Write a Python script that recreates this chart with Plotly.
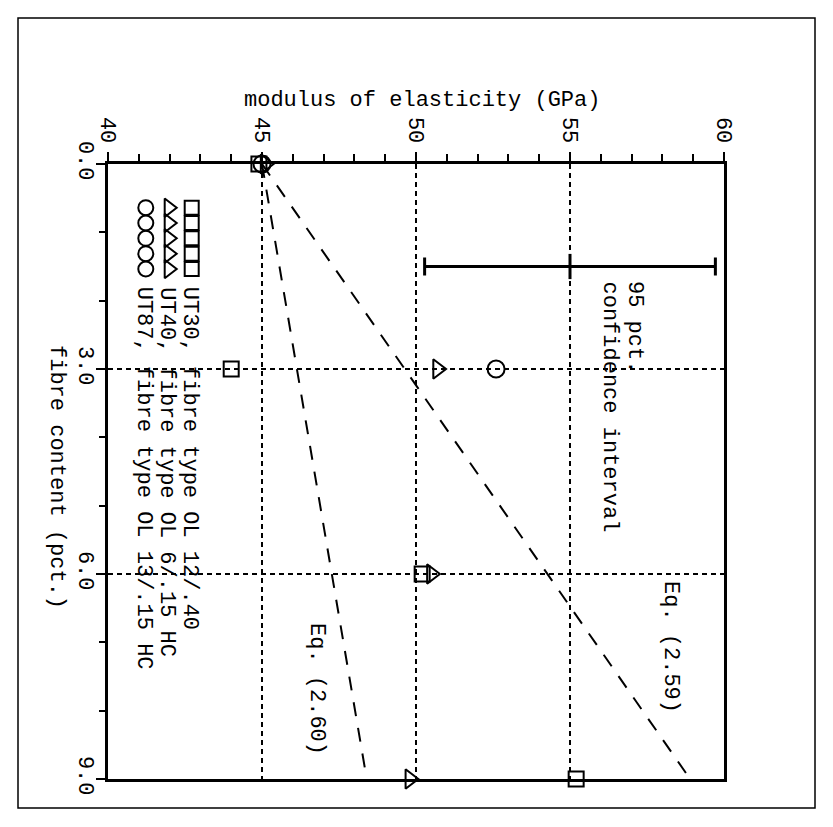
import plotly.graph_objects as go

# ---- measured data: fibre content (pct.) vs. modulus of elasticity (GPa) ----
ut30_fibre = [0.0, 3.0, 6.0, 9.0]
ut30_modulus = [44.9, 44.0, 50.2, 55.2]

ut40_fibre = [0.0, 3.0, 6.0, 9.0]
ut40_modulus = [45.1, 50.7, 50.5, 49.8]

ut87_fibre = [0.0, 3.0]
ut87_modulus = [45.0, 52.6]

# ---- model predictions ----
eq259_fibre = [0.0, 9.0]
eq259_modulus = [45.0, 58.9]
eq260_fibre = [0.0, 9.0]
eq260_modulus = [45.0, 48.4]

# ---- 95 pct. confidence interval ----
ci_fibre = [1.5]
ci_centre = [55.0]
ci_half_width = [4.72]

legend_labels = [
    "UT30, fibre type OL 12/.40",
    "UT40, fibre type OL 6/.15 HC",
    "UT87, fibre type OL 13/.15 HC",
]

modulus_range = [40, 60]
fibre_range = [0.0, 9.0]
modulus_ticks = [40, 45, 50, 55, 60]
fibre_ticks = [0.0, 3.0, 6.0, 9.0]

# ---- page geometry ----
W, H = 833, 827
L, T = 108, 164
PW, PH = 616, 615
FONT = dict(family="Liberation Mono", size=22, color="black")


def mod_at(px):
    return modulus_range[0] + (px - L) * (modulus_range[1] - modulus_range[0]) / PW


def fib_at(py):
    return fibre_range[0] + (py - T) * (fibre_range[1] - fibre_range[0]) / PH


def paper_x(px):
    return (px - L) / PW


def paper_y(py):
    return (T + PH - py) / PH


fig = go.Figure()

# prediction lines
for xs, ys in [(eq259_modulus, eq259_fibre), (eq260_modulus, eq260_fibre)]:
    fig.add_trace(go.Scatter(
        x=xs, y=ys, mode="lines", cliponaxis=False,
        line=dict(color="black", width=2, dash="14px,12px"),
        showlegend=False, hoverinfo="skip"))

# confidence interval bar
fig.add_trace(go.Scatter(
    x=ci_centre, y=ci_fibre, mode="markers", cliponaxis=False,
    marker=dict(symbol="line-ns-open", size=18, color="black",
                line=dict(color="black", width=3)),
    error_x=dict(type="data", array=ci_half_width, symmetric=True,
                 color="black", thickness=3, width=9),
    showlegend=False))

# measured series
series = [
    (ut30_modulus, ut30_fibre, "square-open", 15),
    (ut40_modulus, ut40_fibre, "triangle-right-open", 17),
    (ut87_modulus, ut87_fibre, "circle-open", 17),
]
for xs, ys, sym, size in series:
    fig.add_trace(go.Scatter(
        x=xs, y=ys, mode="markers", cliponaxis=False,
        marker=dict(symbol=sym, size=size, color="black",
                    line=dict(color="black", width=2)),
        showlegend=False))

# key: a row of five symbols followed by the series description
key_rows_px = [191.7, 168.7, 145.8]
key_sym_py = [207.7, 223.0, 238.3, 253.7, 269.0]
key_sizes = [14, 16, 15]
for (xs, ys, sym, size), row_px, label, ks in zip(series, key_rows_px, legend_labels, key_sizes):
    fig.add_trace(go.Scatter(
        x=[mod_at(row_px)] * len(key_sym_py),
        y=[fib_at(p) for p in key_sym_py],
        mode="markers", cliponaxis=False,
        marker=dict(symbol=sym, size=ks, color="black",
                    line=dict(color="black", width=2)),
        showlegend=False, hoverinfo="skip"))
    fig.add_annotation(
        x=paper_x(row_px - 2), y=paper_y(285), xref="paper", yref="paper",
        text=label, textangle=90, showarrow=False,
        xanchor="center", yanchor="top", font=FONT)

# text inside the plot
fig.add_annotation(x=paper_x(635), y=paper_y(279), xref="paper", yref="paper",
                   text="95 pct.", textangle=90, showarrow=False,
                   xanchor="center", yanchor="top", font=FONT)
fig.add_annotation(x=paper_x(609), y=paper_y(279), xref="paper", yref="paper",
                   text="confidence interval", textangle=90, showarrow=False,
                   xanchor="center", yanchor="top", font=FONT)
fig.add_annotation(x=paper_x(671), y=paper_y(647), xref="paper", yref="paper",
                   text="Eq. (2.59)", textangle=90, showarrow=False,
                   xanchor="center", yanchor="middle", font=FONT)
fig.add_annotation(x=paper_x(317), y=paper_y(689), xref="paper", yref="paper",
                   text="Eq. (2.60)", textangle=90, showarrow=False,
                   xanchor="center", yanchor="middle", font=FONT)

# axis titles
fig.add_annotation(x=paper_x(421.5), y=paper_y(115), xref="paper", yref="paper",
                   text="modulus of elasticity (GPa)", showarrow=False,
                   xanchor="center", yanchor="bottom", font=FONT)
fig.add_annotation(x=paper_x(57), y=paper_y(477), xref="paper", yref="paper",
                   text="fibre content (pct.)", textangle=90, showarrow=False,
                   xanchor="center", yanchor="middle", font=FONT)

# outer frame
fig.add_shape(type="rect", xref="paper", yref="paper",
              x0=paper_x(18), x1=paper_x(815), y0=paper_y(808), y1=paper_y(18),
              line=dict(color="black", width=1.5), layer="below")

grid = dict(showgrid=True, gridcolor="black", gridwidth=1.5, griddash="5px,4px")
axis_common = dict(
    showline=True, linecolor="black", linewidth=3, mirror=True,
    ticks="outside", ticklen=9, tickwidth=2, tickcolor="black",
    tickangle=90, tickfont=FONT, zeroline=False, **grid)

fig.update_xaxes(
    range=modulus_range, side="top", tickmode="array", tickvals=modulus_ticks,
    ticktext=[str(v) for v in modulus_ticks], ticklabelstandoff=1,
    minor=dict(dtick=1, tick0=40, ticks="outside", ticklen=7, tickwidth=2,
               tickcolor="black", showgrid=False),
    **axis_common)
fig.update_yaxes(
    range=fibre_range[::-1], tickmode="array", tickvals=fibre_ticks,
    ticktext=[f"{v:.1f}" for v in fibre_ticks], ticklabelstandoff=-9,
    minor=dict(dtick=1, tick0=0, ticks="outside", ticklen=6, tickwidth=2,
               tickcolor="black", showgrid=False),
    **axis_common)

fig.update_layout(
    width=W, height=H,
    margin=dict(l=L, r=W - L - PW, t=T, b=H - T - PH),
    paper_bgcolor="white", plot_bgcolor="white",
    font=FONT, showlegend=False)

fig.write_html("out.html")
